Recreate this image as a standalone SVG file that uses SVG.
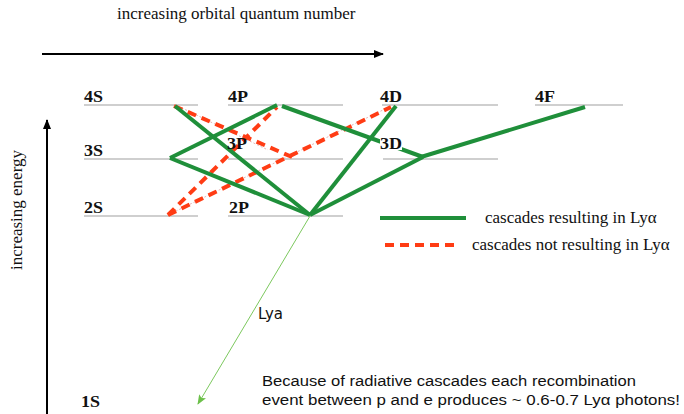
<svg xmlns="http://www.w3.org/2000/svg" width="684" height="414" viewBox="0 0 684 414">
<defs>
<style>
.lvl{stroke:#a0a0a0;stroke-width:1.2;fill:none}
.lab{font-family:"Liberation Serif",serif;font-weight:bold;font-size:17px;fill:#111}
.ser{font-family:"Liberation Serif",serif;font-size:17px;fill:#111}
.sans{font-family:"Liberation Sans",sans-serif;font-size:15.5px;fill:#111}
.g{stroke:#1f8f3a;stroke-width:4;fill:none;stroke-linecap:butt}
.r{stroke:#ff3c14;stroke-width:4;fill:none;stroke-dasharray:9,6}
.d{stroke:#e0a0a0;stroke-width:0.8;fill:none;stroke-dasharray:2,2}
</style>
<marker id="ah" markerWidth="10" markerHeight="8" refX="9" refY="4" orient="auto" markerUnits="userSpaceOnUse">
<path d="M0,0 L10,4 L0,8 Z" fill="#000"/>
</marker>
<marker id="gh" markerWidth="10" markerHeight="8" refX="9" refY="4" orient="auto" markerUnits="userSpaceOnUse">
<path d="M0,0 L10,4 L0,8 L2,4 Z" fill="#6cc04a"/>
</marker>
</defs>
<rect width="684" height="414" fill="#fff"/>
<text class="ser" x="117" y="19">increasing orbital quantum number</text>
<line x1="42" y1="54" x2="383" y2="54" stroke="#000" stroke-width="2" marker-end="url(#ah)"/>
<line x1="47" y1="414" x2="47" y2="120" stroke="#000" stroke-width="2" marker-end="url(#ah)"/>
<text class="ser" transform="translate(22,210) rotate(-90)" text-anchor="middle">increasing energy</text>
<g id="levels">
<line class="lvl" x1="84" y1="105" x2="198" y2="105"/>
<line class="lvl" x1="228" y1="105" x2="343" y2="105"/>
<line class="lvl" x1="382" y1="105" x2="498" y2="105"/>
<line class="lvl" x1="535" y1="105" x2="623" y2="105"/>
<line class="lvl" x1="84" y1="159" x2="198" y2="159"/>
<line class="lvl" x1="228" y1="159" x2="343" y2="159"/>
<line class="lvl" x1="383" y1="159" x2="498" y2="159"/>
<line class="lvl" x1="84" y1="216" x2="198" y2="216"/>
<line class="lvl" x1="228" y1="216" x2="343" y2="216"/>
</g>
<g id="connectors">
<line class="d" x1="178" y1="106" x2="268" y2="150"/>
<line class="d" x1="172" y1="213" x2="385" y2="109"/>
<line class="r" x1="174" y1="106" x2="292" y2="157"/>
<line class="r" x1="168" y1="215" x2="277" y2="107"/>
<line class="r" x1="168" y1="215" x2="391" y2="107"/>
<line class="g" x1="175" y1="106" x2="310" y2="215"/>
<line class="g" x1="277" y1="105" x2="170" y2="158"/>
<line class="g" x1="170" y1="158" x2="310" y2="215"/>
<line class="g" x1="282" y1="106" x2="423" y2="157"/>
<line class="g" x1="310" y1="215" x2="396" y2="106"/>
<line class="g" x1="310" y1="215" x2="423" y2="157"/>
<line class="g" x1="421" y1="157" x2="585" y2="107"/>
<line x1="310" y1="216" x2="198" y2="404" stroke="#7cc85e" stroke-width="1" marker-end="url(#gh)"/>
</g>
<g id="n4S"><text class="lab" x="84" y="102" textLength="19" lengthAdjust="spacingAndGlyphs">4S</text></g>
<g id="n4P"><text class="lab" x="228" y="102" textLength="20" lengthAdjust="spacingAndGlyphs">4P</text></g>
<g id="n4D"><text class="lab" x="380" y="102" textLength="22" lengthAdjust="spacingAndGlyphs">4D</text></g>
<g id="n4F"><text class="lab" x="535" y="102" textLength="20" lengthAdjust="spacingAndGlyphs">4F</text></g>
<g id="n3S"><text class="lab" x="84" y="156" textLength="19" lengthAdjust="spacingAndGlyphs">3S</text></g>
<g id="n3P"><text class="lab" x="227" y="149" textLength="20" lengthAdjust="spacingAndGlyphs">3P</text></g>
<g id="n3D"><rect x="380" y="134" width="22" height="16" fill="#fff"/><text class="lab" x="380" y="149" textLength="22" lengthAdjust="spacingAndGlyphs">3D</text></g>
<g id="n2S"><text class="lab" x="84" y="213" textLength="19" lengthAdjust="spacingAndGlyphs">2S</text></g>
<g id="n2P"><text class="lab" x="229" y="213" textLength="20" lengthAdjust="spacingAndGlyphs">2P</text></g>
<g id="n1S"><text class="lab" x="81" y="407" font-size="19" textLength="19" lengthAdjust="spacingAndGlyphs">1S</text></g>
<g id="lya"><text x="258" y="319" font-family="DejaVu Sans,sans-serif" font-size="15" fill="#111">Lya</text></g>
<g id="legend">
<line class="g" x1="380" y1="218" x2="466" y2="218"/>
<text class="ser" x="485" y="223">cascades resulting in Lyα</text>
<line class="r" x1="385" y1="245" x2="458" y2="245"/>
<text class="ser" x="472" y="250">cascades not resulting in Lyα</text>
</g>
<g id="note">
<text class="sans" x="262" y="386" textLength="374" lengthAdjust="spacingAndGlyphs">Because of radiative cascades each recombination</text>
<text class="sans" x="262" y="405" textLength="418" lengthAdjust="spacingAndGlyphs">event between p and e produces ~ 0.6-0.7 Lyα photons!</text>
</g>
</svg>
